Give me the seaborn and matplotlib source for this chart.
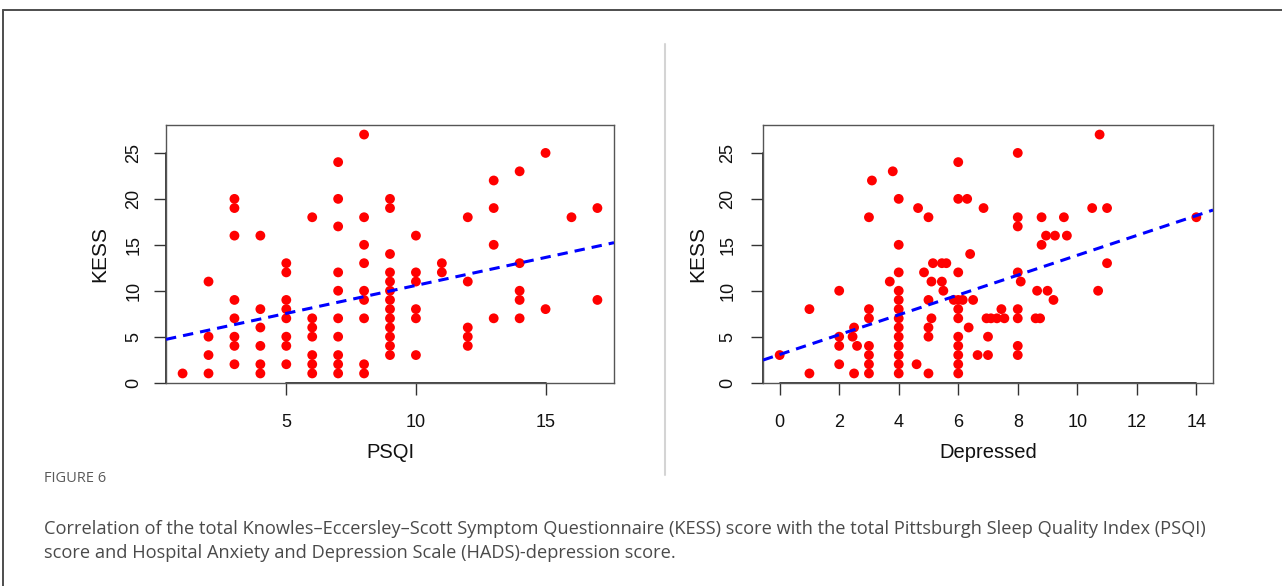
import matplotlib
matplotlib.use("Agg")
import matplotlib.pyplot as plt
from matplotlib.lines import Line2D
import seaborn as sns
import numpy as np

# ---------------- data ----------------
psqi = [1,
        2, 2, 2, 2,
        3, 3, 3, 3, 3, 3, 3, 3,
        4, 4, 4, 4, 4, 4,
        5, 5, 5, 5, 5, 5, 5, 5,
        6, 6, 6, 6, 6, 6, 6,
        7, 7, 7, 7, 7, 7, 7, 7, 7, 7,
        8, 8, 8, 8, 8, 8, 8, 8, 8,
        9, 9, 9, 9, 9, 9, 9, 9, 9, 9, 9, 9, 9,
        10, 10, 10, 10, 10, 10,
        11, 11,
        12, 12, 12, 12, 12,
        13, 13, 13, 13,
        14, 14, 14, 14, 14,
        15, 15,
        16,
        17, 17]
kess_psqi = [1,
             11, 5, 3, 1,
             20, 19, 16, 9, 7, 5, 4, 2,
             16, 8, 6, 4, 2, 1,
             13, 12, 9, 8, 7, 5, 4, 2,
             18, 7, 6, 5, 3, 2, 1,
             24, 20, 17, 12, 10, 7, 5, 3, 2, 1,
             27, 18, 15, 13, 10, 9, 7, 2, 1,
             20, 19, 14, 12, 11, 10, 9, 8, 7, 6, 5, 4, 3,
             16, 12, 11, 8, 7, 3,
             13, 12,
             18, 11, 6, 5, 4,
             22, 19, 15, 7,
             23, 13, 10, 9, 7,
             25, 8,
             18,
             19, 9]

depressed = [0,
             1, 1,
             2, 2, 2, 2,
             2.45, 2.5, 2.6, 2.5,
             3, 3.1, 3, 3, 3, 3, 3, 3,
             3.7, 3.8,
             4, 4, 4, 4, 4, 4, 4, 4, 4, 4, 4, 4, 4,
             4.6, 4.65, 4.85,
             5, 5, 5, 5, 5, 5.1, 5.1, 5.15,
             5.45, 5.6, 5.45, 5.5,
             5.85, 6.0, 6.15, 6.5,
             6, 6, 6.3, 6, 6, 6, 6, 6, 6, 6, 6,
             6.35, 6.4, 6.85,
             6.65, 7, 7,
             6.95, 7.1, 7.3, 7.55,
             7.45,
             8, 8, 8, 8, 8.1, 8, 8, 8, 8,
             8.65, 8.6, 8.75,
             8.8, 8.8, 8.95, 9.25, 9, 9.2,
             9.55, 9.65,
             10.5, 10.7, 10.75,
             11, 11,
             14]
kess_dep = [3,
            8, 1,
            10, 5, 4, 2,
            5, 6, 4, 1,
            18, 22, 8, 7, 4, 3, 2, 1,
            11, 23,
            20, 15, 12, 10, 9, 8, 7, 6, 5, 4, 3, 2, 1,
            2, 19, 12,
            18, 9, 6, 5, 1, 7, 11, 13,
            13, 13, 11, 10,
            9, 9, 9, 9,
            24, 20, 20, 12, 8, 7, 5, 4, 3, 2, 1,
            6, 14, 19,
            3, 3, 5,
            7, 7, 7, 7,
            8,
            25, 18, 17, 12, 11, 8, 7, 4, 3,
            10, 7, 7,
            18, 15, 16, 16, 10, 9,
            18, 16,
            19, 10, 27,
            19, 13,
            18]

# fitted line (intercept, slope) as drawn in the figure
fit_psqi = [4.49, 0.609]
fit_dep = [3.06, 1.08]

xticks_psqi = [5, 10, 15]
xticks_dep = [0, 2, 4, 6, 8, 10, 12, 14]
yticks = [0, 5, 10, 15, 20, 25]

caption_title = "FIGURE 6"
caption_lines = [
    "Correlation of the total Knowles\u2013Eccersley\u2013Scott Symptom Questionnaire (KESS) score with the total Pittsburgh Sleep Quality Index (PSQI)",
    "score and Hospital Anxiety and Depression Scale (HADS)-depression score.",
]

# ---------------- styling ----------------
sns.set_style("white")
plt.rcParams["font.family"] = ["Liberation Sans", "DejaVu Sans"]

W, H = 1282, 586
fig = plt.figure(figsize=(W / 100, H / 100), dpi=100)
fig.patch.set_facecolor("white")

def px_axes(x0, y0, x1, y1):
    return fig.add_axes([x0 / W, 1 - y1 / H, (x1 - x0) / W, (y1 - y0) / H])

ax1 = px_axes(166, 125, 614, 383)
ax2 = px_axes(763, 125, 1213, 383)

RED = "#ff0000"
BLUE = "#0000ff"
DARK = "#333333"

def style_panel(ax, x, y, fit, xticks, xlim, xlabel, ypad, ylabpad):
    sns.scatterplot(x=x, y=y, ax=ax, color=RED, s=50, edgecolor="none",
                    linewidth=0, zorder=3)
    ax.axline((0, fit[0]), slope=fit[1], color=BLUE, lw=2.2,
              linestyle=(0, (3.4, 2.3)), zorder=4)
    ax.set_xlim(*xlim)
    ax.set_ylim(-0.04, 28.04)
    ax.set_xticks(xticks)
    ax.set_yticks(yticks)
    for s in ax.spines.values():
        s.set_visible(True)
        s.set_color("#555555")
        s.set_linewidth(1.0)
    ax.tick_params(axis="both", direction="out", length=8.5, width=1.0,
                   color=DARK, labelsize=13, labelcolor="#111111")
    ax.tick_params(axis="x", pad=13.5, bottom=True)
    ax.tick_params(axis="y", pad=ypad, left=True, labelrotation=90)
    for lab in ax.get_yticklabels():
        lab.set_va("center")
    ax.set_xlabel(xlabel, fontsize=14.5, labelpad=9, color="#111111")
    ax.set_ylabel("KESS", fontsize=15, labelpad=ylabpad, color="#111111")
    # R-style axis lines spanning first to last tick
    ax.add_line(Line2D([xticks[0], xticks[-1]], [0, 0], color=DARK, lw=1.3,
                       transform=ax.get_xaxis_transform(), clip_on=False))
    ax.add_line(Line2D([0, 0], [yticks[0], yticks[-1]], color=DARK, lw=1.3,
                       transform=ax.get_yaxis_transform(), clip_on=False))
    ax.grid(False)

style_panel(ax1, psqi, kess_psqi, fit_psqi, xticks_psqi, (0.36, 17.64),
            "PSQI", 8.6, 11.5)
style_panel(ax2, depressed, kess_dep, fit_dep, xticks_dep, (-0.56, 14.56),
            "Depressed", 10.5, 8.6)

# frame of the figure card and separator
fig.add_artist(Line2D([3 / W, 1], [1 - 10 / H, 1 - 10 / H], color="#4d4d4d", lw=1.4))
fig.add_artist(Line2D([3 / W, 3 / W], [0, 1 - 10 / H], color="#4d4d4d", lw=1.4))
fig.add_artist(Line2D([665 / W, 665 / W], [1 - 475 / H, 1 - 44 / H],
                      color="#d4d4d4", lw=1.5))

# caption
fig.text(44 / W, 1 - 479 / H, caption_title, fontsize=10.5, color="#5a5a5a",
         va="center", ha="left", family=["Open Sans", "DejaVu Sans"])
for i, line in enumerate(caption_lines):
    fig.text(44 / W, 1 - (529 + 24 * i) / H, line, fontsize=13.15, color="#4a4a4a",
             va="center", ha="left", family=["Open Sans", "DejaVu Sans"])

fig.savefig("out.png", dpi=100, facecolor="white")
